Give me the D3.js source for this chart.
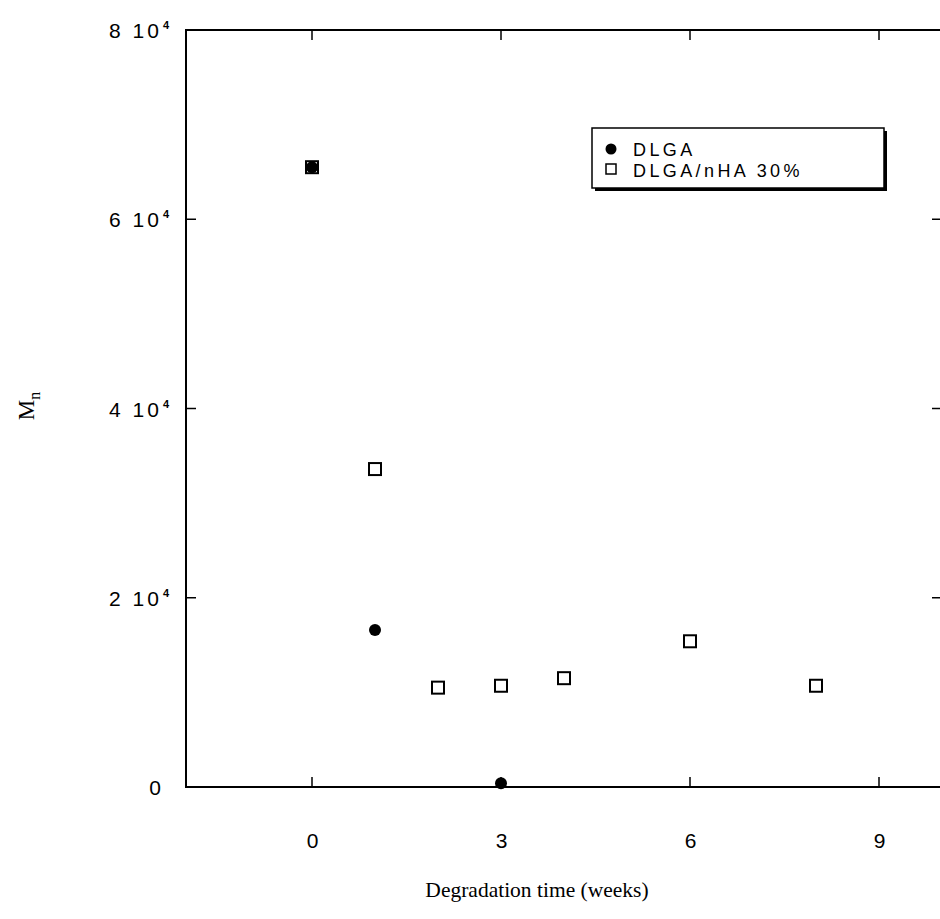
<!DOCTYPE html>
<html>
<head>
<meta charset="utf-8">
<script src="https://cdn.jsdelivr.net/npm/d3@7"></script>
<style>
  body { margin: 0; background: #fff; }
  svg { display: block; }
  .tick-label { font-family: "Liberation Sans", Arial, sans-serif; font-size: 21px; letter-spacing: 3px; fill: #000; }
  .legend-text { font-family: "Liberation Sans", Arial, sans-serif; font-size: 18px; letter-spacing: 3.4px; fill: #000; }
  .axis-title { font-family: "Liberation Serif", "Times New Roman", serif; font-size: 21.5px; fill: #000; }
</style>
</head>
<body>
<div id="chart"></div>
<script>
// data
var weeksDLGA = [0, 1, 3];
var mnDLGA = [65500, 16600, 400];
var weeksComposite = [0, 1, 2, 3, 4, 6, 8];
var mnComposite = [65500, 33600, 10500, 10700, 11500, 15400, 10700];
var seriesNames = ["DLGA", "DLGA/nHA 30%"];
var xTicks = [0, 3, 6, 9];
var yTicks = [0, 20000, 40000, 60000, 80000];

var width = 940, height = 919;
var margin = {top: 30, right: -2, bottom: 132, left: 186};

var svg = d3.select("#chart").append("svg")
    .attr("width", width)
    .attr("height", height);

var xScale = d3.scaleLinear()
    .domain([-2, 10])
    .range([margin.left, width - margin.right]);

var yScale = d3.scaleLinear()
    .domain([0, 80000])
    .range([height - margin.bottom, margin.top]);

var x0 = xScale.range()[0], x1 = xScale.range()[1];
var y0 = yScale.range()[0], y1 = yScale.range()[1];
var tickLen = 10;

// frame
svg.append("rect")
    .attr("x", x0).attr("y", y1)
    .attr("width", x1 - x0).attr("height", y0 - y1)
    .style("fill", "none").style("stroke", "#000").style("stroke-width", 2);

// ticks on all four sides, pointing inward
svg.selectAll(".xtick-b").data(xTicks).enter().append("line")
    .attr("x1", function(d) { return xScale(d); }).attr("x2", function(d) { return xScale(d); })
    .attr("y1", y0).attr("y2", y0 - tickLen)
    .style("stroke", "#000").style("stroke-width", 1.5);

svg.selectAll(".xtick-t").data(xTicks).enter().append("line")
    .attr("x1", function(d) { return xScale(d); }).attr("x2", function(d) { return xScale(d); })
    .attr("y1", y1).attr("y2", y1 + tickLen)
    .style("stroke", "#000").style("stroke-width", 1.5);

svg.selectAll(".ytick-l").data(yTicks).enter().append("line")
    .attr("x1", x0).attr("x2", x0 + tickLen)
    .attr("y1", function(d) { return yScale(d); }).attr("y2", function(d) { return yScale(d); })
    .style("stroke", "#000").style("stroke-width", 1.5);

svg.selectAll(".ytick-r").data(yTicks).enter().append("line")
    .attr("x1", x1).attr("x2", x1 - tickLen)
    .attr("y1", function(d) { return yScale(d); }).attr("y2", function(d) { return yScale(d); })
    .style("stroke", "#000").style("stroke-width", 1.5);

// x tick labels
svg.selectAll(".xlabel").data(xTicks).enter().append("text")
    .attr("class", "tick-label")
    .attr("x", function(d) { return xScale(d) + 2; })
    .attr("y", y0 + 61)
    .attr("text-anchor", "middle")
    .text(function(d) { return d; });

// y tick labels, "8 10^4" style
var yLab = svg.selectAll(".ylabel").data(yTicks).enter().append("text")
    .attr("class", "tick-label")
    .attr("x", 164)
    .attr("y", function(d) { return yScale(d) + 8; })
    .attr("text-anchor", "end");

yLab.each(function(d) {
    var t = d3.select(this);
    if (d === 0) { t.text("0"); return; }
    t.attr("text-anchor", "start").attr("x", 109);
    t.append("tspan").text((d / 10000) + " 10");
    t.append("tspan")
        .attr("dy", -9)
        .attr("dx", 1)
        .style("font-size", "11px")
        .style("font-weight", "bold")
        .text("4");
});

// composite series: open squares
var sq = 12;
svg.selectAll(".sq").data(weeksComposite).enter().append("rect")
    .attr("x", function(d) { return xScale(d) - sq / 2; })
    .attr("y", function(d, i) { return yScale(mnComposite[i]) - sq / 2; })
    .attr("width", sq).attr("height", sq)
    .style("fill", "#fff").style("stroke", "#000").style("stroke-width", 2);

// DLGA: filled circles
svg.selectAll(".dot").data(weeksDLGA).enter().append("circle")
    .attr("cx", function(d) { return xScale(d); })
    .attr("cy", function(d, i) { return yScale(mnDLGA[i]); })
    .attr("r", 6)
    .style("fill", "#000");

// legend
var lg = svg.append("g").attr("transform", "translate(592,128)");
lg.append("rect")
    .attr("x", 3).attr("y", 3).attr("width", 292).attr("height", 60)
    .style("fill", "#000");
lg.append("rect")
    .attr("x", 0).attr("y", 0).attr("width", 292).attr("height", 60)
    .style("fill", "#fff").style("stroke", "#000").style("stroke-width", 1.5);
lg.append("circle").attr("cx", 19).attr("cy", 21).attr("r", 5.5).style("fill", "#000");
lg.append("rect").attr("x", 14).attr("y", 36).attr("width", 10).attr("height", 10)
    .style("fill", "#fff").style("stroke", "#000").style("stroke-width", 1.5);
lg.selectAll(".legend-text").data(seriesNames).enter().append("text")
    .attr("class", "legend-text")
    .attr("x", 41)
    .attr("y", function(d, i) { return 28 + i * 20.5; })
    .text(function(d) { return d; });

// axis titles
svg.append("text")
    .attr("class", "axis-title")
    .attr("x", 537).attr("y", 897)
    .attr("text-anchor", "middle")
    .text("Degradation time (weeks)");

var yt = svg.append("text")
    .attr("class", "axis-title")
    .attr("transform", "translate(34,406) rotate(-90)")
    .attr("text-anchor", "middle");
yt.append("tspan").style("font-size", "23px").text("M");
yt.append("tspan").attr("dy", 6).style("font-size", "16px").text("n");
</script>
</body>
</html>
